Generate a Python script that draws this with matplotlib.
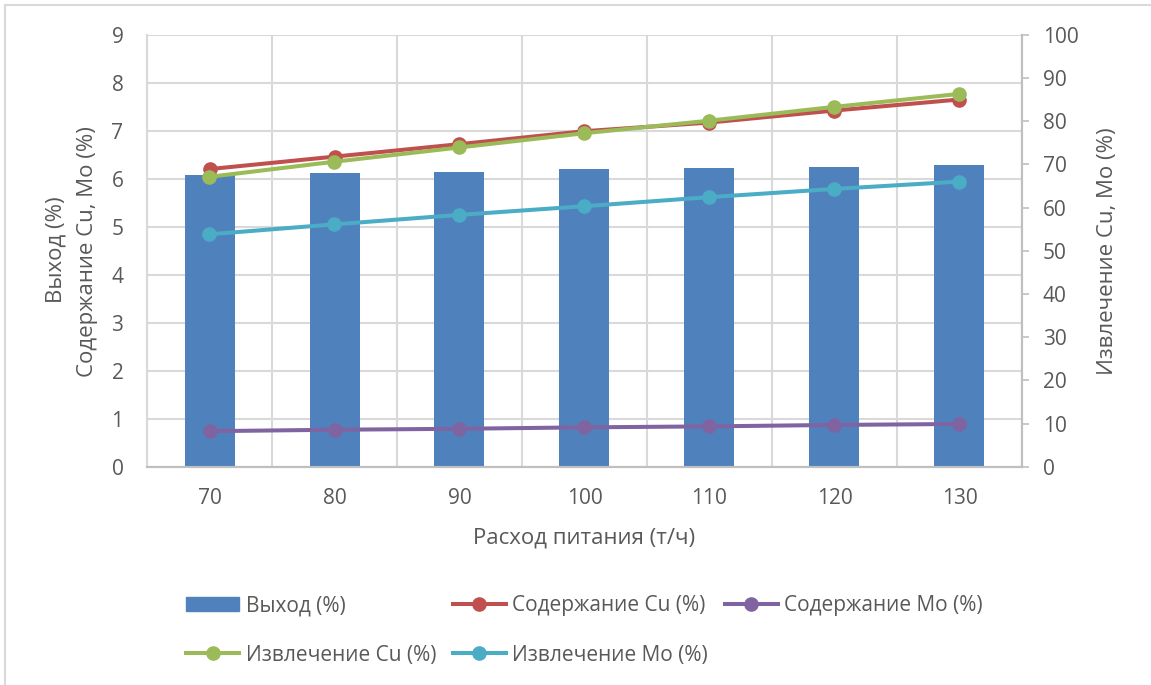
import matplotlib
matplotlib.use('Agg')
import matplotlib.pyplot as plt
import numpy as np
from matplotlib.lines import Line2D

plt.rcParams['font.family'] = ['Open Sans', 'DejaVu Sans']

# расход питания, т/ч
feed = [70, 80, 90, 100, 110, 120, 130]
# выход концентрата, %
vyhod = [6.07, 6.11, 6.15, 6.20, 6.22, 6.25, 6.28]
# содержание в концентрате, %
soderzh_cu = [6.20, 6.46, 6.72, 6.99, 7.17, 7.42, 7.65]
soderzh_mo = [0.74, 0.77, 0.79, 0.82, 0.84, 0.87, 0.89]
# извлечение, %
izvl_cu = [67.1, 70.6, 73.9, 77.2, 80.1, 83.3, 86.3]
izvl_mo = [53.8, 56.1, 58.3, 60.3, 62.4, 64.3, 66.0]

c_bar = '#4F81BD'
c_red = '#C0504D'
c_purple = '#8064A2'
c_green = '#9BBB59'
c_cyan = '#4BACC6'
c_grid = '#D9D9D9'
c_text = '#595959'
fs_tick = 15
fs_lab = 16
fs_leg = 15

fig = plt.figure(figsize=(11.51, 6.85), dpi=100)
ax = fig.add_axes([147/1151, 1-466.7/685, 875/1151, 432/685])
ax2 = ax.twinx()

x = np.arange(len(feed))
ax.bar(x, vyhod, width=0.4, color=c_bar, zorder=2)

lw = 2.9
ms = 9.5
ax.plot(x, soderzh_cu, color=c_red, lw=lw, marker='o', ms=ms, zorder=3)
ax.plot(x, soderzh_mo, color=c_purple, lw=lw, marker='o', ms=ms, zorder=3)
ax2.plot(x, izvl_cu, color=c_green, lw=lw, marker='o', ms=ms)
ax2.plot(x, izvl_mo, color=c_cyan, lw=lw, marker='o', ms=ms)

ax.set_xlim(-0.5, 6.5)
ax.set_ylim(0, 9)
ax2.set_ylim(0, 100)
ax.set_yticks(range(0, 10))
ax2.set_yticks(range(0, 101, 10))
ax.set_xticks(x)
ax.set_xticklabels([str(v) for v in feed])
ax.set_xticks(np.arange(-0.5, 7, 1), minor=True)

ax.grid(axis='y', color=c_grid, lw=1.5, zorder=0)
ax.grid(axis='x', which='minor', color=c_grid, lw=1.5, zorder=0)
ax.set_axisbelow(True)

for a in (ax, ax2):
    a.spines['top'].set_visible(False)
    a.spines['left'].set_color(c_grid)
    a.spines['left'].set_linewidth(1.5)
    a.spines['bottom'].set_color('#BFBFBF')
    a.spines['bottom'].set_linewidth(1.5)
    a.spines['right'].set_color('#BFBFBF')
    a.spines['right'].set_linewidth(1.5)

ax.tick_params(axis='y', length=0, pad=17, labelsize=fs_tick, labelcolor=c_text)
ax.tick_params(axis='x', which='both', length=0, pad=15, labelsize=fs_tick,
               labelcolor=c_text)
ax2.tick_params(axis='y', length=5, width=1.2, color='#BFBFBF', pad=10,
                labelsize=fs_tick, labelcolor=c_text)

fig.text(56/1151, 1-250/685, 'Выход (%)', rotation=90, ha='center', va='center',
         fontsize=fs_lab, color=c_text)
fig.text(88/1151, 1-252/685, 'Содержание Cu, Mo (%)', rotation=90, ha='center',
         va='center', fontsize=fs_lab, color=c_text)
fig.text(1108/1151, 1-251/685, 'Извлечение Cu, Mo (%)', rotation=90, ha='center',
         va='center', fontsize=fs_lab, color=c_text)
fig.text(584/1151, 1-538/685, 'Расход питания (т/ч)', ha='center', va='center',
         fontsize=fs_lab, color=c_text)

# легенда: порядок задан так, чтобы строки шли как в таблице
def line_handle(c):
    return Line2D([], [], color=c, lw=lw, marker='o', ms=ms)

handles = [plt.Rectangle((0, 0), 1, 1, color=c_bar), line_handle(c_green),
           line_handle(c_red), line_handle(c_cyan), line_handle(c_purple)]
labels = ['Выход (%)', 'Извлечение Cu (%)', 'Содержание Cu (%)',
          'Извлечение Mo (%)', 'Содержание Mo (%)']
leg = fig.legend(handles, labels, ncol=3, loc='center', frameon=False,
                 bbox_to_anchor=(584.5/1151, 1-630.5/685), fontsize=fs_leg,
                 handlelength=2.55, handletextpad=0.3, columnspacing=0.8,
                 labelspacing=1.35)
for t in leg.get_texts():
    t.set_color(c_text)

# рамка рисунка
fig.add_artist(Line2D([5/1151, 5/1151], [0, 1-5/685], color=c_grid, lw=1.5))
fig.add_artist(Line2D([5/1151, 1], [1-5/685, 1-5/685], color=c_grid, lw=1.5))

fig.savefig('out.png', dpi=100)
